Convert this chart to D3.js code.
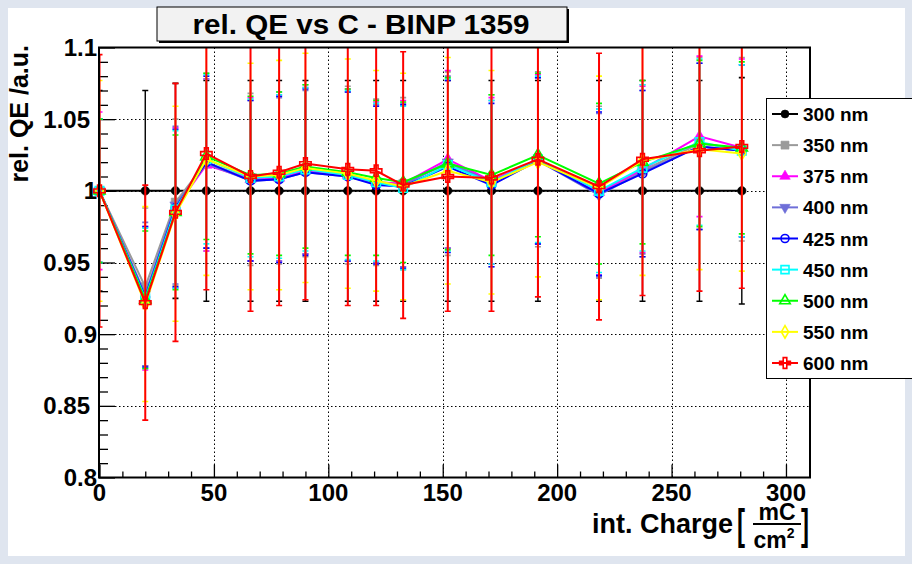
<!DOCTYPE html>
<html>
<head>
<meta charset="utf-8">
<script src="https://cdn.jsdelivr.net/npm/d3@7"></script>
<style>
  body { margin: 0; background: #dfe5ef; }
  svg { display: block; }
  text { font-family: "Liberation Sans", Arial, Helvetica, sans-serif; font-weight: bold; fill: #000; }
</style>
</head>
<body>
<svg id="chart" width="912" height="564"></svg>
<script>
// Integrated charge [mC/cm^2] at each measurement
const charge = [0, 20, 33.2, 46.7, 66, 78.5, 90, 108.5, 120.9, 132.7, 152.2, 171.3, 191.6, 218.3, 237.3, 262.2, 280.7];

// Relative QE per wavelength (normalised to the 300 nm curve)
const qe300 = [1, 1, 1, 1, 1, 1, 1, 1, 1, 1, 1, 1, 1, 1, 1, 1, 1];
const qe350 = [1, 0.933, 0.992, 1.020, 1.008, 1.009, 1.014, 1.011, 1.006, 1.005, 1.019, 1.007, 1.022, 0.999, 1.014, 1.033, 1.029];
const qe375 = [1, 0.925, 0.988, 1.018, 1.008, 1.009, 1.014, 1.011, 1.006, 1.005, 1.022, 1.007, 1.022, 0.999, 1.015, 1.038, 1.030];
const qe400 = [1, 0.928, 0.990, 1.019, 1.007, 1.008, 1.013, 1.010, 1.005, 1.004, 1.020, 1.006, 1.021, 0.997, 1.013, 1.031, 1.028];
const qe425 = [1, 0.926, 0.988, 1.020, 1.007, 1.008, 1.013, 1.010, 1.004, 1.003, 1.017, 1.004, 1.021, 0.998, 1.012, 1.031, 1.028];
const qe450 = [1, 0.925, 0.987, 1.022, 1.009, 1.010, 1.015, 1.011, 1.006, 1.002, 1.018, 1.006, 1.022, 1.000, 1.016, 1.034, 1.028];
const qe500 = [1, 0.924, 0.985, 1.024, 1.011, 1.012, 1.017, 1.013, 1.009, 1.006, 1.019, 1.011, 1.025, 1.005, 1.020, 1.033, 1.030];
const qe550 = [1, 0.921, 0.984, 1.022, 1.010, 1.011, 1.016, 1.012, 1.007, 1.003, 1.014, 1.006, 1.020, 1.002, 1.021, 1.029, 1.026];
const qe600 = [1, 0.922, 0.985, 1.026, 1.010, 1.013, 1.019, 1.015, 1.014, 1.004, 1.010, 1.009, 1.022, 1.003, 1.022, 1.028, 1.031];

// Symmetric uncertainties
const err300 = [0.070, 0.070, 0.075, 0.077, 0.077, 0.077, 0.077, 0.077, 0.077, 0.077, 0.077, 0.077, 0.077, 0.077, 0.077, 0.077, 0.079];
const err350 = [0.050, 0.055, 0.058, 0.062, 0.060, 0.060, 0.060, 0.062, 0.058, 0.060, 0.064, 0.060, 0.061, 0.060, 0.060, 0.060, 0.064];
const err375 = [0.055, 0.050, 0.056, 0.060, 0.057, 0.058, 0.058, 0.060, 0.056, 0.058, 0.062, 0.058, 0.059, 0.058, 0.058, 0.056, 0.062];
const err400 = [0.050, 0.050, 0.055, 0.059, 0.056, 0.057, 0.057, 0.059, 0.055, 0.057, 0.060, 0.057, 0.058, 0.057, 0.057, 0.058, 0.060];
const err425 = [0.050, 0.049, 0.055, 0.060, 0.056, 0.058, 0.058, 0.059, 0.055, 0.057, 0.060, 0.057, 0.058, 0.057, 0.058, 0.058, 0.060];
const err450 = [0.050, 0.049, 0.055, 0.059, 0.055, 0.057, 0.057, 0.059, 0.055, 0.057, 0.060, 0.057, 0.058, 0.057, 0.058, 0.058, 0.060];
const err500 = [0.050, 0.048, 0.054, 0.058, 0.055, 0.057, 0.057, 0.058, 0.054, 0.056, 0.060, 0.056, 0.057, 0.056, 0.057, 0.058, 0.060];
const err550 = [0.077, 0.068, 0.075, 0.081, 0.079, 0.080, 0.080, 0.080, 0.077, 0.079, 0.079, 0.078, 0.080, 0.078, 0.080, 0.084, 0.082];
const err600 = [0.095, 0.082, 0.090, 0.095, 0.094, 0.093, 0.095, 0.095, 0.094, 0.093, 0.094, 0.093, 0.096, 0.093, 0.095, 0.098, 0.099];

const seriesNames = ["300 nm", "350 nm", "375 nm", "400 nm", "425 nm", "450 nm", "500 nm", "550 nm", "600 nm"];
const seriesValues = [qe300, qe350, qe375, qe400, qe425, qe450, qe500, qe550, qe600];
const seriesErrors = [err300, err350, err375, err400, err425, err450, err500, err550, err600];

const xTicks = [0, 50, 100, 150, 200, 250, 300];
const yTicks = [0.8, 0.85, 0.9, 0.95, 1, 1.05, 1.1];

// Drawing style per wavelength: colour and marker
const styles = [
  { color: "#000000", shape: "circle",   filled: true },
  { color: "#9a9a9a", shape: "square",   filled: true },
  { color: "#ff00ff", shape: "triUp",    filled: true },
  { color: "#6f6fd8", shape: "triDown",  filled: true },
  { color: "#0000ff", shape: "circle",   filled: false },
  { color: "#00ffff", shape: "square",   filled: false },
  { color: "#00ff00", shape: "triUp",    filled: false },
  { color: "#ffff00", shape: "diamond",  filled: false },
  { color: "#ff0000", shape: "cross",    filled: false }
];

const W = 912, H = 564;
const frame = { left: 99, top: 47.5, right: 810, bottom: 477.5 };

const svg = d3.select("#chart");

// canvas: light border, white pad
svg.append("rect").attr("x", 0).attr("y", 0).attr("width", W).attr("height", H).attr("fill", "#dfe5ef");
svg.append("rect").attr("x", 8).attr("y", 8).attr("width", 897).attr("height", 548).attr("fill", "#ffffff");

const x = d3.scaleLinear().domain([0, 310.5]).range([frame.left + 0.5, frame.right]);
const y = d3.scaleLinear().domain([0.8, 1.1]).range([frame.bottom, frame.top]);

svg.append("defs").append("clipPath").attr("id", "plotClip")
  .append("rect")
  .attr("x", frame.left).attr("y", frame.top)
  .attr("width", frame.right - frame.left).attr("height", frame.bottom - frame.top);

// dotted grid at major ticks
const grid = svg.append("g");
grid.selectAll("line.gx").data(xTicks.filter(d => d > 0)).join("line")
  .attr("x1", d => Math.round(x(d)) + 0.5).attr("x2", d => Math.round(x(d)) + 0.5)
  .attr("y1", frame.top).attr("y2", frame.bottom)
  .attr("stroke", "#000").attr("stroke-width", 1).attr("stroke-dasharray", "1.5,2.5");
grid.selectAll("line.gy").data(yTicks.filter(d => d > 0.8 && d < 1.1)).join("line")
  .attr("y1", d => Math.round(y(d)) + 0.5).attr("y2", d => Math.round(y(d)) + 0.5)
  .attr("x1", frame.left).attr("x2", frame.right)
  .attr("stroke", "#000").attr("stroke-width", 1).attr("stroke-dasharray", "1.5,2.5");

// axes: ticks pointing inside the frame
const xMinor = d3.range(10, 310, 10).filter(v => v % 50 !== 0);
const yMinor = d3.range(81, 110, 1).map(v => v / 100).filter(v => Math.round(v * 100) % 5 !== 0);

const xAxisMajor = d3.axisBottom(x).tickValues(xTicks).tickSize(-13).tickFormat("");
const xAxisMinor = d3.axisBottom(x).tickValues(xMinor).tickSize(-6).tickFormat("");
const yAxisMajor = d3.axisLeft(y).tickValues(yTicks).tickSize(-16).tickFormat("");
const yAxisMinor = d3.axisLeft(y).tickValues(yMinor).tickSize(-9).tickFormat("");

function styleAxis(g) {
  g.select(".domain").remove();
  g.selectAll(".tick line").attr("stroke", "#000").attr("stroke-width", 1.3);
}
svg.append("g").attr("transform", `translate(0,${frame.bottom})`).call(xAxisMajor).call(styleAxis);
svg.append("g").attr("transform", `translate(0,${frame.bottom})`).call(xAxisMinor).call(styleAxis);
svg.append("g").attr("transform", `translate(${frame.left},0)`).call(yAxisMajor).call(styleAxis);
svg.append("g").attr("transform", `translate(${frame.left},0)`).call(yAxisMinor).call(styleAxis);

// tick labels
const fmtY = d => d3.format("~g")(d);
svg.append("g").selectAll("text").data(xTicks).join("text")
  .attr("x", d => x(d)).attr("y", 501)
  .attr("text-anchor", "middle").attr("font-size", 24)
  .text(d => d);
svg.append("g").selectAll("text").data(yTicks).join("text")
  .attr("x", d => (fmtY(d).length > 3 ? 90 : 97))
  .attr("y", d => y(d) + 8.5)
  .attr("text-anchor", "end").attr("font-size", 24)
  .text(fmtY);

// markers
function markerPath(shape, size) {
  const s = size;
  switch (shape) {
    case "circle":  return d3.symbol(d3.symbolCircle, s * s * 0.78)();
    case "square":  return d3.symbol(d3.symbolSquare, s * s)();
    case "triUp":   return d3.symbol(d3.symbolTriangle, s * s * 0.75)();
    case "triDown": return d3.symbol(d3.symbolTriangle, s * s * 0.75)();
    case "diamond": return d3.symbol(d3.symbolDiamond, s * s * 0.7)();
    case "cross":   return d3.symbol(d3.symbolCross, s * s * 1.0)();
  }
}
function drawMarker(sel, st, cx, cy, size) {
  sel.append("path")
    .attr("d", markerPath(st.shape, size))
    .attr("transform", `translate(${cx},${cy})` + (st.shape === "triDown" ? " rotate(180)" : ""))
    .attr("fill", st.filled ? st.color : "none")
    .attr("stroke", st.color)
    .attr("stroke-width", st.filled ? 0.6 : 1.6);
}

const line = d3.line().x(d => x(d.c)).y(d => y(d.v));
const plot = svg.append("g");

seriesValues.forEach((vals, si) => {
  const st = styles[si];
  const errs = seriesErrors[si];
  const pts = charge.map((c, i) => ({ c, v: vals[i], e: errs[i] }));
  const g = plot.append("g");
  const clipped = g.append("g").attr("clip-path", "url(#plotClip)");

  clipped.append("path").datum(pts)
    .attr("d", line).attr("fill", "none")
    .attr("stroke", st.color).attr("stroke-width", 2);

  const eb = clipped.selectAll("g.err").data(pts).join("g");
  eb.append("line")
    .attr("x1", d => x(d.c)).attr("x2", d => x(d.c))
    .attr("y1", d => y(d.v + d.e)).attr("y2", d => y(d.v - d.e))
    .attr("stroke", st.color).attr("stroke-width", si === 8 ? 2 : 1.4);
  [1, -1].forEach(sgn => {
    eb.append("line")
      .attr("x1", d => x(d.c) - 3).attr("x2", d => x(d.c) + 3)
      .attr("y1", d => y(d.v + sgn * d.e)).attr("y2", d => y(d.v + sgn * d.e))
      .attr("stroke", st.color).attr("stroke-width", 1.6);
  });

  pts.forEach(d => drawMarker(g, st, x(d.c), y(d.v), 8.5));
});

// frame
svg.append("rect")
  .attr("x", frame.left).attr("y", frame.top)
  .attr("width", frame.right - frame.left).attr("height", frame.bottom - frame.top)
  .attr("fill", "none").attr("stroke", "#000").attr("stroke-width", 2);

// title box with shadow
svg.append("rect").attr("x", 159).attr("y", 9).attr("width", 410).attr("height", 34).attr("fill", "#000");
svg.append("rect").attr("x", 157).attr("y", 7).attr("width", 410).attr("height", 34)
  .attr("fill", "#f2f2f2").attr("stroke", "#000").attr("stroke-width", 1);
svg.append("text").attr("x", 361).attr("y", 34).attr("text-anchor", "middle")
  .attr("font-size", 28).attr("textLength", 337).attr("lengthAdjust", "spacingAndGlyphs")
  .text("rel. QE vs C - BINP 1359");

// axis titles
svg.append("text").attr("transform", "translate(28,45) rotate(-90)")
  .attr("text-anchor", "end").attr("font-size", 25)
  .text("rel. QE /a.u.");

const xt = svg.append("g");
xt.append("text").attr("x", 733).attr("y", 533).attr("text-anchor", "end").attr("font-size", 27)
  .text("int. Charge");
xt.append("text").attr("transform", "translate(737,539) scale(1,1.75)").attr("font-size", 24).text("[");
xt.append("text").attr("x", 777).attr("y", 520).attr("text-anchor", "middle").attr("font-size", 23).text("mC");
xt.append("line").attr("x1", 753).attr("x2", 801).attr("y1", 524).attr("y2", 524)
  .attr("stroke", "#000").attr("stroke-width", 2);
const cm = xt.append("text").attr("x", 774).attr("y", 548).attr("text-anchor", "middle").attr("font-size", 23);
cm.append("tspan").text("cm");
cm.append("tspan").attr("font-size", 14).attr("dy", -10).text("2");
xt.append("text").attr("transform", "translate(801,539) scale(1,1.75)").attr("font-size", 24).text("]");

// legend
const lg = svg.append("g");
lg.append("rect").attr("x", 766.5).attr("y", 98.5).attr("width", 150).attr("height", 280)
  .attr("fill", "#fff").attr("stroke", "#000").attr("stroke-width", 1);
const legendY = d3.scaleLinear().domain([0, seriesNames.length - 1]).range([114, 363]);
seriesNames.forEach((name, i) => {
  const st = styles[i];
  const cy = legendY(i);
  lg.append("line").attr("x1", 772).attr("x2", 798).attr("y1", cy).attr("y2", cy)
    .attr("stroke", st.color).attr("stroke-width", 2);
  drawMarker(lg, st, 785, cy, 8);
  lg.append("text").attr("x", 803).attr("y", cy + 7).attr("font-size", 19).text(name);
});
</script>
</body>
</html>
